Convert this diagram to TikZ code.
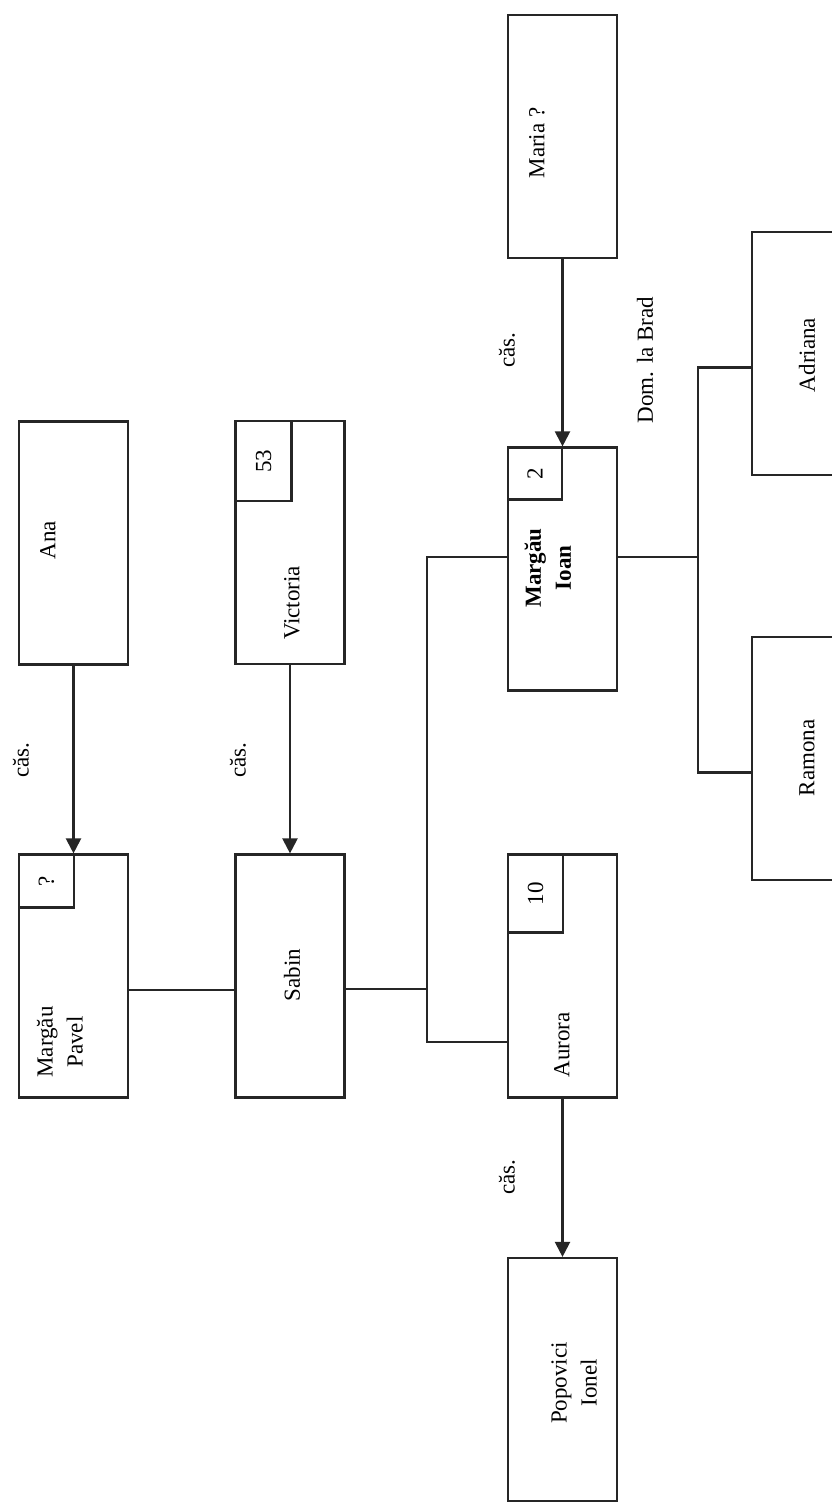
\documentclass[tikz,border=0pt]{standalone}
\usepackage{fontspec}
\setmainfont{Liberation Serif}
\usetikzlibrary{arrows.meta}
\begin{document}
\begin{tikzpicture}[x=1pt,y=-1pt,
  box/.style={draw=black!85, line width=2.2pt, minimum width=109pt, minimum height=243pt, inner sep=0pt},
  inbox/.style={draw=black!85, line width=2.2pt, inner sep=0pt, anchor=north west, font=\fontsize{23}{30}\selectfont},
  txt/.style={rotate=90, align=center, font=\fontsize{23}{30}\selectfont, inner sep=0pt},
  conn/.style={line width=2.2pt, draw=black!85},
  arr/.style={conn, -{Triangle[length=15pt,width=15pt]}}]
\useasboundingbox (0,0) rectangle (831,1502);
\fill[white] (0,0) rectangle (831,1502);

% boxes
\node[box] (ana) at (73.5,543) {};
\node[box] (pavel) at (73.5,976) {};
\node[box] (vic) at (290,542.5) {};
\node[box] (sabin) at (290,976) {};
\node[box] (maria) at (562.5,136.5) {};
\node[box] (ioan) at (562.5,569) {};
\node[box] (aurora) at (562.5,976) {};
\node[box] (popovici) at (562.5,1379.5) {};
\node[box] (adriana) at (806.5,353.5) {};
\node[box] (ramona) at (806.5,758.5) {};

% corner boxes
\node[inbox, minimum width=55pt, minimum height=53pt] (pavelq) at (pavel.north west) {\rotatebox{90}{?}};
\node[inbox, minimum width=56pt, minimum height=80pt] (vicq) at (vic.north west) {\rotatebox{90}{53}};
\node[inbox, minimum width=54pt, minimum height=52pt] (ioanq) at (ioan.north west) {\rotatebox{90}{2}};
\node[inbox, minimum width=55pt, minimum height=78pt] (auroraq) at (aurora.north west) {\rotatebox{90}{10}};

% texts
\node[txt] (anat) at (48,540) {Ana};
\node[txt] (pavelt) at (60,1042) {Margău\\Pavel};
\node[txt] (vict) at (292,603) {Victoria};
\node[txt] (sabint) at (292,975) {Sabin};
\node[txt] (mariat) at (537,143) {Maria ?};
\node[txt, font=\fontsize{23}{30}\selectfont\bfseries] (ioant) at (548,568) {Margău\\Ioan};
\node[txt] (aurorat) at (562,1045) {Aurora};
\node[txt] (popovicit) at (574,1383) {Popovici\\Ionel};
\node[txt] (adrianat) at (807,355) {Adriana};
\node[txt] (ramonat) at (807,758) {Ramona};
\node[txt] (domt) at (645,360) {Dom. la Brad};
\node[txt] (cas1) at (21,760) {căs.};
\node[txt] (cas2) at (238,760) {căs.};
\node[txt] (cas3) at (507,350) {căs.};
\node[txt] (cas4) at (507,1177) {căs.};

% marriage arrows
\draw[arr] (ana.south) -- (pavel.north);
\draw[arr] (vic.south) -- (sabin.north);
\draw[arr] (maria.south) -- (ioan.north);
\draw[arr] (aurora.south) -- (popovici.north);

% descent lines
\coordinate (j1) at (427,989);
\coordinate (j2) at (698,557);
\draw[conn] ([yshift=-14pt]pavel.east) -- ([yshift=-14pt]sabin.west);
\draw[conn] ([yshift=-13pt]sabin.east) -- (j1);
\draw[conn] ([yshift=12pt]ioan.west) -| (j1) |- ([yshift=-66pt]aurora.west);
\draw[conn] ([yshift=12pt]ioan.east) -- (j2);
\draw[conn] ([yshift=-14pt]adriana.west) -| (j2) |- ([yshift=-14pt]ramona.west);
\end{tikzpicture}
\end{document}
